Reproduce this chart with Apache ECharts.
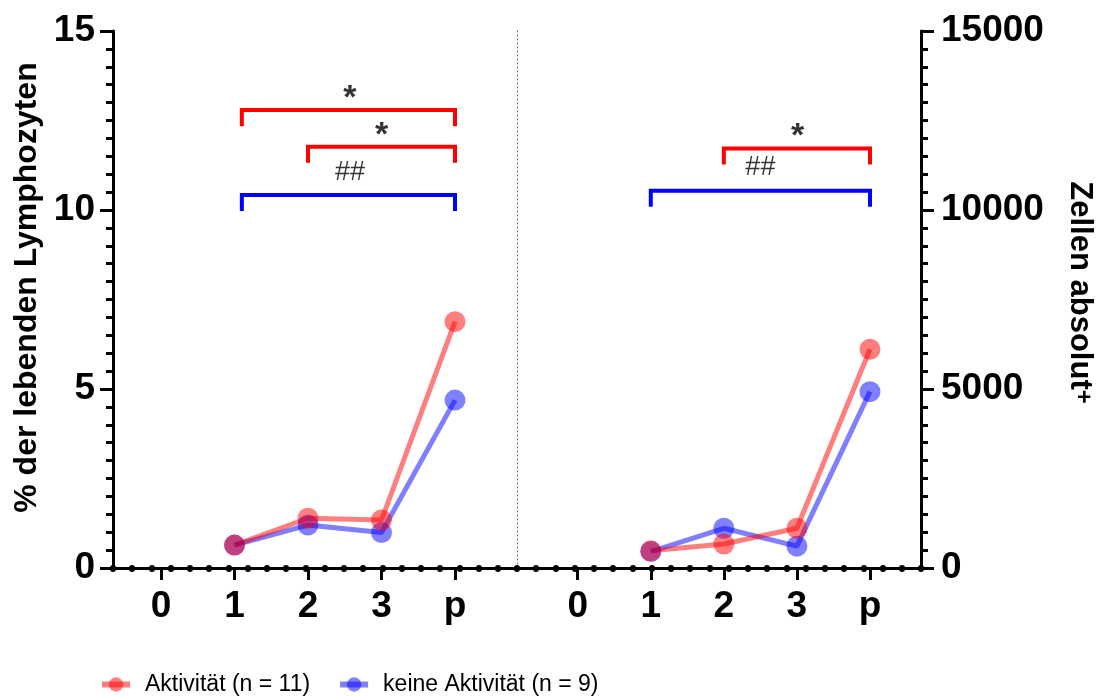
<!DOCTYPE html>
<html>
<head>
<meta charset="utf-8">
<script src="https://cdn.jsdelivr.net/npm/echarts@6/dist/echarts.min.js"></script>
<style>
  html, body { margin: 0; padding: 0; background: #fff; }
  #chart { width: 1104px; height: 696px; }
</style>
</head>
<body>
<div id="chart"></div>
<script>
// x categories (same for both panels)
const categories = ['0', '1', '2', '3', 'p'];

// left panel: % of living lymphocytes
const pctActive = ['-', 0.64, 1.39, 1.34, 6.88];
const pctInactive = ['-', 0.64, 1.2, 0.99, 4.69];

// right panel: absolute cells
const absActive = ['-', 480, 670, 1110, 6110];
const absInactive = ['-', 460, 1110, 610, 4925];

// significance brackets: [from, to, top]
const pctRedBrackets = [[1.1, 4, 12.79], [2, 4, 11.77]];
const pctBlueBrackets = [[1.1, 4, 10.42]];
const absRedBrackets = [[2, 4, 11720]];
const absBlueBrackets = [[1, 4, 10540]];

// significance marks: [x, y]
const pctStars = [[2.57, 13.1], [3.0, 12.08]];
const pctHashes = [[2.57, 11.06]];
const absStars = [[3.01, 12060]];
const absHashes = [[2.5, 11187]];

const nameActive = 'Aktivität (n = 11)';
const nameInactive = 'keine Aktivität (n = 9)';

const RED = 'rgba(255,0,0,0.5)';
const BLUE = 'rgba(0,0,255,0.5)';
const FONT = 'Liberation Sans, Arial, sans-serif';

var myChart = echarts.init(document.getElementById('chart'));

const catAxis = (grid) => ({
  gridIndex: grid,
  type: 'category',
  data: categories,
  boundaryGap: true,
  axisLine: {show: true, onZero: false, lineStyle: {color: '#000', width: 3}},
  axisTick: {show: true, alignWithLabel: true, length: 12, lineStyle: {color: '#000', width: 3}},
  axisLabel: {fontSize: 37, fontWeight: 'bold', color: '#000', margin: 20, fontFamily: FONT},
  splitLine: {show: false}
});

const dataSeries = (name, data, color, xi, yi) => ({
  name: name,
  type: 'line',
  xAxisIndex: xi,
  yAxisIndex: yi,
  data: data,
  symbol: 'circle',
  symbolSize: 21,
  lineStyle: {color: color, width: 5},
  itemStyle: {color: color},
  z: 3
});

const bracketSeries = (list, color, xi, yi, leg) => list.map(b => ({
  type: 'line',
  xAxisIndex: xi,
  yAxisIndex: yi,
  symbol: 'none',
  silent: true,
  lineStyle: {color: color, width: 4, join: 'miter', cap: 'butt'},
  data: [[b[0], b[2] - leg], [b[0], b[2]], [b[1], b[2]], [b[1], b[2] - leg]],
  z: 2
}));

const markSeries = (list, text, xi, yi, size, weight) => ({
  type: 'scatter',
  xAxisIndex: xi,
  yAxisIndex: yi,
  symbolSize: 0,
  silent: true,
  data: list,
  label: {
    show: true, position: 'inside', formatter: text,
    fontSize: size, fontWeight: weight, color: '#000', fontFamily: FONT
  }
});

myChart.setOption({
  animation: false,
  textStyle: {fontFamily: FONT},
  grid: [
    {left: 113, right: 183, top: 31, bottom: 128},
    {left: 124.25, right: 612.25, top: 31, bottom: 128},
    {left: 541.2, right: 197.5, top: 31, bottom: 128}
  ],
  legend: {
    left: 94,
    top: 668,
    itemWidth: 28,
    itemHeight: 18,
    itemGap: 27,
    data: [nameActive, nameInactive],
    lineStyle: {width: 6},
    textStyle: {fontSize: 23, color: '#000', fontFamily: FONT, padding: [0, 0, 0, 10]}
  },
  xAxis: [
    {
      gridIndex: 0, type: 'value', min: 0, max: 42, interval: 1,
      axisLine: {show: true, onZero: false, lineStyle: {color: '#000', width: 3}},
      axisTick: {show: true, length: 1, lineStyle: {color: '#000', width: 6, cap: 'round'}},
      axisLabel: {show: false},
      splitLine: {show: false}
    },
    catAxis(1),
    catAxis(2),
    {gridIndex: 1, type: 'value', min: -0.5, max: 4.5, show: false},
    {gridIndex: 2, type: 'value', min: -0.5, max: 4.5, show: false}
  ],
  yAxis: [
    {
      gridIndex: 0, type: 'value', position: 'left', min: 0, max: 15, interval: 5,
      axisLine: {show: true, lineStyle: {color: '#000', width: 3}},
      axisTick: {show: true, length: 13, lineStyle: {color: '#000', width: 3}},
      minorTick: {show: true, splitNumber: 10, length: 7, lineStyle: {color: '#000', width: 3}},
      axisLabel: {fontSize: 37, fontWeight: 'bold', color: '#000', margin: 18, fontFamily: FONT},
      splitLine: {show: false},
      name: '% der lebenden Lymphozyten',
      nameLocation: 'middle',
      nameRotate: 90,
      nameGap: 55,
      nameTextStyle: {fontSize: 32, fontWeight: 'bold', color: '#000', fontFamily: FONT, padding: [0, 0, 0, 24]}
    },
    {
      gridIndex: 0, type: 'value', position: 'right', min: 0, max: 15000, interval: 5000,
      axisLine: {show: true, lineStyle: {color: '#000', width: 3}},
      axisTick: {show: true, length: 13, lineStyle: {color: '#000', width: 3}},
      minorTick: {show: true, splitNumber: 10, length: 7, lineStyle: {color: '#000', width: 3}},
      axisLabel: {fontSize: 37, fontWeight: 'bold', color: '#000', margin: 20, fontFamily: FONT,
        formatter: v => String(v)},
      splitLine: {show: false},
      name: '{a|Zellen absolut}{s|+}',
      nameLocation: 'middle',
      nameRotate: -90,
      nameGap: 143,
      nameTextStyle: {
        color: '#000',
        padding: [0, 14, 0, 0],
        rich: {
          a: {fontSize: 31, fontWeight: 'bold', color: '#000', fontFamily: FONT},
          s: {fontSize: 24, fontWeight: 'bold', color: '#000', fontFamily: FONT, verticalAlign: 'top'}
        }
      }
    },
    {
      // dotted separator between panels
      gridIndex: 0, type: 'value', position: 'left', offset: -404, min: 0, max: 1,
      axisLine: {show: true, lineStyle: {color: '#666', width: 1, type: [1, 3]}},
      axisTick: {show: false}, axisLabel: {show: false}, splitLine: {show: false}
    },
    {gridIndex: 1, type: 'value', min: 0, max: 15, show: false},
    {gridIndex: 2, type: 'value', min: 0, max: 15000, show: false}
  ],
  series: [
    dataSeries(nameInactive, pctInactive, BLUE, 1, 3),
    dataSeries(nameActive, pctActive, RED, 1, 3),
    dataSeries(nameInactive, absInactive, BLUE, 2, 4),
    dataSeries(nameActive, absActive, RED, 2, 4),
    ...bracketSeries(pctRedBrackets, '#ff0000', 3, 3, 0.45),
    ...bracketSeries(pctBlueBrackets, '#0000ff', 3, 3, 0.45),
    ...bracketSeries(absRedBrackets, '#ff0000', 4, 4, 450),
    ...bracketSeries(absBlueBrackets, '#0000ff', 4, 4, 450),
    markSeries(pctStars, '*', 3, 3, 34, 'bold'),
    markSeries(pctHashes, '##', 3, 3, 27, 'normal'),
    markSeries(absStars, '*', 4, 4, 34, 'bold'),
    markSeries(absHashes, '##', 4, 4, 27, 'normal')
  ]
});
</script>
</body>
</html>
